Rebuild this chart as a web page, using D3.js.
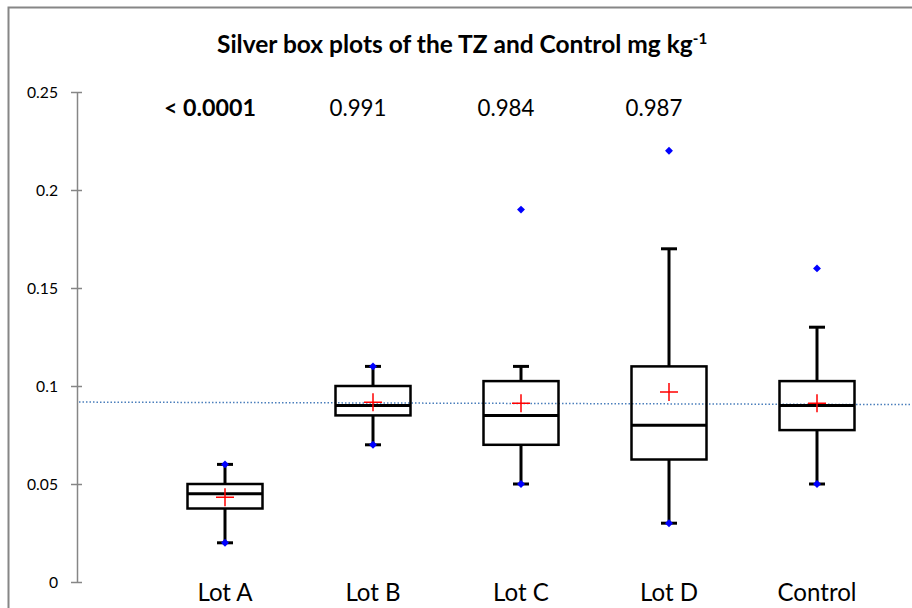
<!DOCTYPE html>
<html><head><meta charset="utf-8">
<script src="https://cdn.jsdelivr.net/npm/d3@7"></script>
<style>body{margin:0;background:#fff}svg{display:block}text{font-family:Lato,"Open Sans",sans-serif}</style>
</head><body><svg id="c" width="912" height="608"></svg>
<script>
const categories = ["Lot A","Lot B","Lot C","Lot D","Control"];
const whiskerLow  = [0.02, 0.07, 0.05, 0.03, 0.05];
const q1          = [0.0375, 0.085, 0.07, 0.0625, 0.0775];
const median      = [0.045, 0.09, 0.085, 0.08, 0.09];
const q3          = [0.05, 0.10, 0.1025, 0.11, 0.1025];
const whiskerHigh = [0.06, 0.11, 0.11, 0.17, 0.13];
const means       = [0.0432, 0.0917, 0.0912, 0.097, 0.0912];
const points      = [[0.02,0.06],[0.07,0.11],[0.05,0.19],[0.03,0.22],[0.05,0.16]];
const pLabels     = ["< 0.0001","0.991","0.984","0.987",""];
const pBold       = [true,false,false,false,false];
const yTicks      = [0,0.05,0.1,0.15,0.2,0.25];
const refLine     = [0.0918, 0.0905];

const svg = d3.select("#c");
const y = d3.scaleLinear().domain([0,0.25]).range([582,92]);
const x = d3.scalePoint().domain(categories).range([225,817]);
const boxW = 75, capW = 16;

// font-size fitting to target widths (layout only)
function fitSize(str, weight, target){
  const t = svg.append("text").attr("font-size",20).attr("font-weight",weight).text(str);
  const w = t.node().getComputedTextLength(); t.remove();
  return 20*target/w;
}
const fsTitle = fitSize("Silver box plots of the TZ and Control mg kg","bold",476);
const fsP     = fitSize("0.991","normal",57);
const fsPB    = fitSize("< 0.0001","bold",92);
const fsCat   = fitSize("Control","normal",79);
const fsTick  = fitSize("0.25","normal",31);

// outer frame (top & left visible)
svg.append("path").attr("d","M8.5,608V7.5H912").attr("fill","none").attr("stroke","#868686").attr("stroke-width",2);

// title
const t = svg.append("text").attr("x",217).attr("y",53).attr("text-anchor","start")
  .attr("font-size",fsTitle).attr("font-weight","bold").attr("fill","#000");
t.append("tspan").text("Silver box plots of the TZ and Control mg kg");
t.append("tspan").attr("font-size",fsTitle*0.62).attr("dy",-fsTitle*0.38).text("-1");

// y axis
const yAxis = d3.axisLeft(y).tickValues(yTicks).tickFormat(d=>String(d)).tickSize(0).tickPadding(0);
const ga = svg.append("g").attr("transform","translate(77,0)").call(yAxis);
ga.select(".domain").attr("stroke","#868686").attr("stroke-width",1.5);
ga.selectAll(".tick text").attr("x",-19).attr("font-size",fsTick).attr("fill","#000").attr("font-family","Lato,sans-serif");
ga.selectAll(".tick").append("line").attr("x1",-6).attr("x2",5).attr("stroke","#868686").attr("stroke-width",1.5);

// reference dotted line
svg.append("line").attr("x1",79).attr("x2",912).attr("y1",y(refLine[0])).attr("y2",y(refLine[1]))
  .attr("stroke","#4a7ebb").attr("stroke-width",1.5).attr("stroke-dasharray","1.5,2");

// boxes
const g = svg.append("g");
categories.forEach((c,i)=>{
  const cx = x(c);
  g.append("line").attr("x1",cx).attr("x2",cx).attr("y1",y(q3[i])).attr("y2",y(whiskerHigh[i])).attr("stroke","#000").attr("stroke-width",3);
  g.append("line").attr("x1",cx).attr("x2",cx).attr("y1",y(q1[i])).attr("y2",y(whiskerLow[i])).attr("stroke","#000").attr("stroke-width",3);
  g.append("line").attr("x1",cx-capW/2).attr("x2",cx+capW/2).attr("y1",y(whiskerHigh[i])).attr("y2",y(whiskerHigh[i])).attr("stroke","#000").attr("stroke-width",3);
  g.append("line").attr("x1",cx-capW/2).attr("x2",cx+capW/2).attr("y1",y(whiskerLow[i])).attr("y2",y(whiskerLow[i])).attr("stroke","#000").attr("stroke-width",3);
  g.append("rect").attr("x",cx-boxW/2).attr("width",boxW).attr("y",y(q3[i])).attr("height",y(q1[i])-y(q3[i]))
    .attr("fill","none").attr("stroke","#000").attr("stroke-width",2.5);
  g.append("line").attr("x1",cx-boxW/2).attr("x2",cx+boxW/2).attr("y1",y(median[i])).attr("y2",y(median[i])).attr("stroke","#000").attr("stroke-width",3);
  g.append("path").attr("d",`M${cx-9},${y(means[i])}H${cx+9}M${cx},${y(means[i])-9}V${y(means[i])+9}`)
    .attr("stroke","#ff0000").attr("stroke-width",1.5).attr("fill","none");
  points[i].forEach(v=>{
    g.append("path").attr("d",d3.symbol(d3.symbolDiamond2,40)()).attr("transform",`translate(${cx},${y(v)})`).attr("fill","#0000ff");
  });
  if(pLabels[i]) svg.append("text").attr("x",cx-15).attr("y",116).attr("text-anchor","middle")
    .attr("font-size",pBold[i]?fsPB:fsP).attr("font-weight",pBold[i]?"bold":"normal").attr("fill","#000").text(pLabels[i]);
  svg.append("text").attr("x",cx).attr("y",601).attr("text-anchor","middle").attr("font-size",fsCat).attr("fill","#000").text(c);
});
</script></body></html>
